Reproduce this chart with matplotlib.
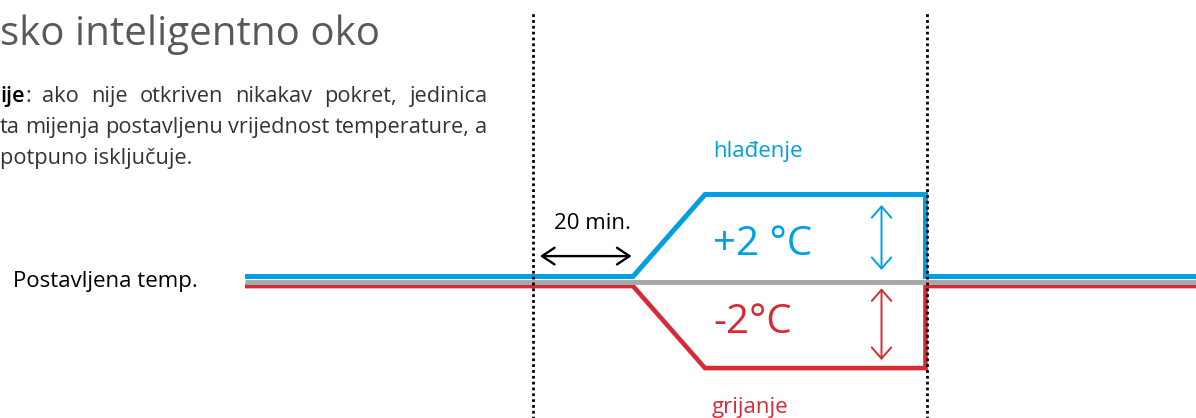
import numpy as np
import matplotlib
matplotlib.use('Agg')
import matplotlib.pyplot as plt
import matplotlib.transforms as mtransforms
from matplotlib.patches import FancyArrowPatch

plt.rcParams['font.family'] = ['Open Sans', 'DejaVu Sans']

BLUE = '#009fe3'
RED = '#d52b34'
GRAY = '#a8a9ab'
TXT = '#333333'

# --- data (time in minutes from last detected motion, offset in degC) ---
time_min = [-57.6, 20, 34.4, 78.5, 78.5, 132.6]
cool_delta = [0, 0, 2, 2, 0, 0]
heat_delta = [0, 0, -2, -2, 0, 0]
set_time = [-57.6, 132.6]
set_delta = [0, 0]
delay_min = 20
guide_times = [0, 78.8]
shift_c = 2

title = 'sko inteligentno oko'
para_line1 = ['ije:', 'ako', 'nije', 'otkriven', 'nikakav', 'pokret,', 'jedinica']
para_line2 = ['ta', 'mijenja', 'postavljenu', 'vrijednost', 'temperature,', 'a']
para_line3 = 'potpuno isključuje.'
set_label = 'Postavljena temp.'
delay_label = '20 min.'
cool_label = '+2 °C'
heat_label = '-2°C'
cool_name = 'hlađenje'
heat_name = 'grijanje'

W, H = 1196, 418
fig = plt.figure(figsize=(W / 100, H / 100), dpi=100)
ax = fig.add_axes([0, 0, 1, 1])
ax.set_xlim(-106.6, 132.6)
ax.set_ylim(-3.329, 6.866)
ax.axis('off')

# stacked lines: blue sits just above the grey set point, red just below
up = mtransforms.offset_copy(ax.transData, fig=fig, y=3.6, units='points')
down = mtransforms.offset_copy(ax.transData, fig=fig, y=-3.3, units='points')
ax.plot(time_min, cool_delta, color=BLUE, lw=3.6, transform=up,
        solid_joinstyle='miter', solid_capstyle='butt', zorder=2)
ax.plot(time_min, heat_delta, color=RED, lw=3.3, transform=down,
        solid_joinstyle='miter', solid_capstyle='butt', zorder=2)
ax.plot(set_time, set_delta, color=GRAY, lw=3.6, solid_capstyle='butt', zorder=3)

for t in guide_times:
    ax.plot([t, t], [-3.5, 6.55], color='black', lw=2.0,
            linestyle=(0, (1, 1.1)), zorder=4)

# arrows
ax.add_patch(FancyArrowPatch((0, 0.62), (delay_min, 0.62),
                             arrowstyle='<->,head_length=0.45,head_width=0.3',
                             mutation_scale=20, lw=1.7, color='black',
                             shrinkA=5, shrinkB=1, zorder=5))
ax.add_patch(FancyArrowPatch((69.7, 0), (69.7, shift_c),
                             arrowstyle='<->,head_length=0.4,head_width=0.35',
                             mutation_scale=20, lw=1.4, color=BLUE,
                             shrinkA=8.3, shrinkB=4, zorder=5))
ax.add_patch(FancyArrowPatch((69.7, 0), (69.7, -shift_c),
                             arrowstyle='<->,head_length=0.4,head_width=0.35',
                             mutation_scale=20, lw=1.4, color=RED,
                             shrinkA=4.9, shrinkB=2.5, zorder=5))


def fpos(x, y):
    return x / W, 1 - y / H


fig.text(*fpos(0, 45), title, fontsize=29, color='#58595b', va='baseline')
fig.text(*fpos(13, 287), set_label, fontsize=16, color='black', va='baseline')
fig.text(*fpos(592, 229), delay_label, fontsize=16, color='black', va='baseline', ha='center')
fig.text(*fpos(713, 255), cool_label, fontsize=29, color=BLUE, va='baseline')
fig.text(*fpos(713, 333), heat_label, fontsize=29, color=RED, va='baseline')
fig.text(*fpos(713, 157), cool_name, fontsize=16, color=BLUE, va='baseline')
fig.text(*fpos(712, 413), heat_name, fontsize=16, color=RED, va='baseline')

# justified paragraph
renderer = fig.canvas.get_renderer()


def width_px(s, **kw):
    t = fig.text(0, 0, s, **kw)
    w = t.get_window_extent(renderer).width
    t.remove()
    return w


box_w = 487
fs = 10 * box_w / width_px(' '.join(para_line2), fontsize=10)


def justify(words, y, first_bold=False):
    widths = []
    for i, wd in enumerate(words):
        if i == 0 and first_bold:
            widths.append(width_px(wd[:-1], fontsize=fs, weight='semibold')
                          + width_px(wd[-1], fontsize=fs))
        else:
            widths.append(width_px(wd, fontsize=fs))
    gap = (box_w - sum(widths)) / (len(words) - 1)
    x = 0
    for i, wd in enumerate(words):
        if i == 0 and first_bold:
            fig.text(*fpos(x, y), wd[:-1], fontsize=fs, weight='semibold',
                     color='black', va='baseline')
            bw = width_px(wd[:-1], fontsize=fs, weight='semibold')
            fig.text(*fpos(x + bw + 1, y), wd[-1], fontsize=fs, color=TXT, va='baseline')
        else:
            fig.text(*fpos(x, y), wd, fontsize=fs, color=TXT, va='baseline')
        x += widths[i] + gap


justify(para_line1, 102, first_bold=True)
justify(para_line2, 133)
fig.text(*fpos(0, 164), para_line3, fontsize=fs, color=TXT, va='baseline')

fig.savefig('out.png', dpi=100)
